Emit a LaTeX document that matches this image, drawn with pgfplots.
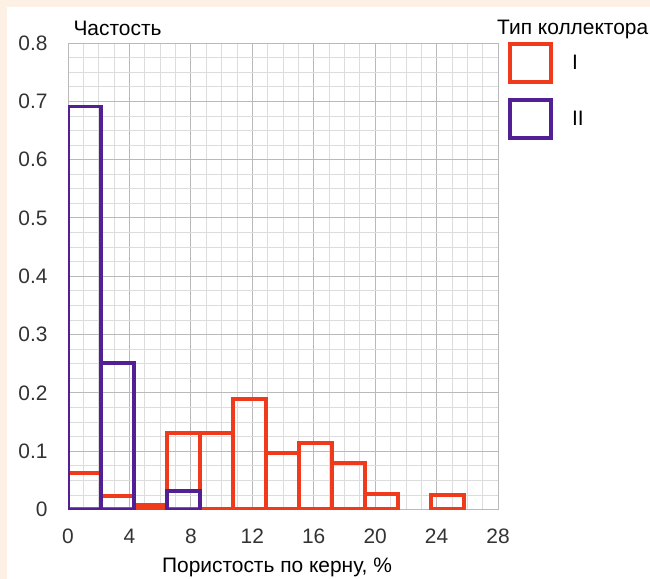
\documentclass[border=0pt]{standalone}
\usepackage{fontspec}
\setmainfont{Liberation Sans}
\usepackage{pgfplots}
\pgfplotsset{compat=1.18}

\definecolor{cI}{RGB}{240,58,28}
\definecolor{cII}{RGB}{82,32,148}
\definecolor{peach}{RGB}{253,241,230}
\definecolor{gridmaj}{RGB}{185,185,185}
\definecolor{gridmin}{RGB}{220,220,220}

\newcommand{\lblfont}{\fontsize{21}{24}\selectfont}

\pgfplotsset{
  boxlegend/.style={
    legend image code/.code={%
      \draw[##1, fill=none] (0bp,-19bp) rectangle (41bp,19bp);%
    }
  }
}

\begin{document}
\begin{tikzpicture}
  % canvas
  \useasboundingbox (0,0) rectangle (650bp,579bp);
  \fill[peach] (0,0) rectangle (650bp,579bp);
  \fill[white] (7bp,0) rectangle (650bp,572bp);

  \begin{axis}[
    name=ax,
    at={(68bp,69.5bp)}, anchor=south west,
    scale only axis,
    width=430bp, height=466.5bp,
    xmin=0, xmax=28, ymin=0, ymax=0.8,
    xtick={0,4,8,12,16,20,24,28},
    ytick={0,0.1,0.2,0.3,0.4,0.5,0.6,0.7,0.8},
    yticklabels={0,0.1,0.2,0.3,0.4,0.5,0.6,0.7,0.8},
    minor x tick num=3,
    minor y tick num=3,
    grid=both,
    major grid style={gridmaj, line width=0.9bp},
    minor grid style={gridmin, line width=0.7bp},
    axis line style={gridmaj, line width=0.9bp},
    major tick length=0pt, minor tick length=0pt,
    tick label style={font=\lblfont, text=black!80},
    /pgf/number format/assume math mode=true,
    yticklabel style={xshift=-17bp},
    xticklabel style={yshift=-16bp},
    xlabel={Пористость по керну, \%},
    xlabel style={font=\lblfont, at={(axis description cs:0.486,0)}, anchor=base, yshift=-62.5bp},
    ylabel={Частость},
    ylabel style={font=\lblfont, rotate=-90, at={(axis description cs:0,1)}, anchor=base west, xshift=2bp, yshift=8bp},
    legend style={draw=none, fill=none, inner sep=0pt, font=\lblfont,
      at={(axis description cs:1.023,1.002)}, anchor=north west,
      row sep=14bp, column sep=17bp},
    legend cell align=left,
  ]
    % collector type I
    \addplot[ybar, bar width=2.15, bar shift=0pt, draw=cI, fill=none,
             line width=4bp, boxlegend]
      coordinates {
        (1.075,0.063) (3.225,0.023) (5.375,0.008) (7.525,0.132)
        (9.675,0.132) (11.825,0.189) (13.975,0.097) (16.125,0.114)
        (18.275,0.080) (20.425,0.026) (24.725,0.025)
      };
    \addlegendentry{I}
    % collector type II
    \addplot[ybar, bar width=2.15, bar shift=0pt, draw=cII, fill=none,
             line width=3.5bp, boxlegend]
      coordinates {
        (1.075,0.691) (3.225,0.251) (7.525,0.032)
      };
    \addlegendentry{II}
  \end{axis}

  \node[font=\lblfont, anchor=base west, inner sep=0pt] at (497bp,544bp) {Тип коллектора};
\end{tikzpicture}
\end{document}
